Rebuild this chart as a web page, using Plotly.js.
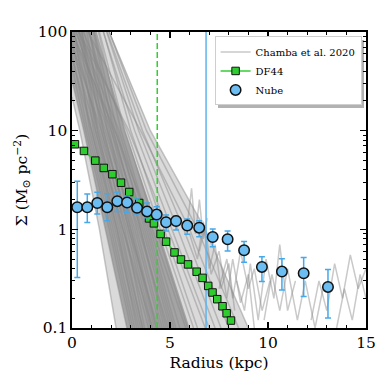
<!DOCTYPE html>
<html>
<head>
<meta charset="utf-8">
<script src="https://cdn.plot.ly/plotly-3.0.1.min.js"></script>
<style>html,body{margin:0;padding:0;background:#fff}#chart{width:382px;height:382px}</style>
</head>
<body>
<div id="chart"></div>
<script>
// ---- Nube (blue circles with error bars) ----
const nubeRadius = [0.27,0.78,1.29,1.80,2.31,2.81,3.32,3.83,4.32,4.80,5.31,5.88,6.49,7.18,7.94,8.78,9.69,10.71,11.82,13.06];
const nubeSigma  = [1.675,1.675,1.85,1.675,1.93,1.87,1.65,1.52,1.41,1.18,1.216,1.091,1.04,0.837,0.794,0.614,0.416,0.373,0.359,0.261];
const nubeErrUp  = [1.39,0.61,0.53,0.62,0.45,0.31,0.38,0.33,0.28,0.22,0.16,0.18,0.18,0.17,0.17,0.14,0.11,0.13,0.16,0.13];
const nubeErrDn  = [1.35,0.50,0.42,0.45,0.41,0.40,0.22,0.21,0.19,0.22,0.23,0.20,0.20,0.17,0.19,0.15,0.12,0.13,0.15,0.135];

// ---- DF44 (green squares) ----
const df44Radius = [0.15,0.61,1.19,1.62,2.06,2.50,2.92,3.43,3.93,4.18,4.52,4.80,5.23,5.56,5.92,6.36,6.66,6.95,7.17,7.41,7.68,7.89,8.11];
const df44Sigma  = [7.28,6.23,4.97,4.19,3.62,2.97,2.39,1.85,1.29,1.15,0.898,0.750,0.583,0.495,0.441,0.372,0.322,0.267,0.229,0.196,0.166,0.141,0.119];

// ---- vertical reference radii ----
const df44Reff = 4.35;   // green dashed
const nubeReff = 6.84;   // blue solid

// ---- Chamba et al. 2020 profiles ----
const chambaRadius = [
  [0,0.4,1.4,2.25],[0,0.6,1.7,2.8],[0,0.7,1.9,3.0],[0,0.3,0.9,2.1,3.2],[0,0.5,1.1,2.3,3.3],
  [0,1.0,2.2,3.4],[0,0.6,1.3,2.5,3.6],[0,0.7,1.5,2.7,3.7],[0,1.4,2.8,4.0],[0,0.8,1.6,2.9,4.1],
  [0,1.5,3.0,4.3],[0,0.9,1.8,3.1,4.3],[0,1.7,3.2,4.5],[0,1.0,2.0,3.3,4.6],[0,1.1,2.1,3.5,4.8],
  [0,2.0,3.6,5.0],[0,1.2,2.3,3.7,5.1],[0,2.4,3.9,5.3],[0,1.3,2.5,4.0,5.5],[0,2.2,4.1,5.8],
  [0,1.4,2.7,4.3,5.9],[0,2.8,4.5,6.2],[0,1.5,3.0,4.7,6.4],[0,2.9,4.9,6.8],[0,1.6,3.2,5.1,7.0],
  [0,1.7,3.4,5.4,7.3],[0,1.8,3.6,5.7,7.6],[0,3.5,6.0,8.0],[0,1.9,3.8,6.4,8.5],[0,1.9,4.0,6.8,9.0],
  [0,1.2,2.4,3.6],[0,1.3,2.6,3.9],[0,0.9,1.9,3.0,4.2],[0,1.8,3.4,4.9],[0,1.1,2.2,3.8,5.2],[0,2.1,3.5,4.7],
  [0,0.8,2.0,3.1],[0,1.0,2.3,3.5],[0,1.6,2.9,4.4],[0,1.2,2.6,4.1,5.6],
  [6.0,6.4,6.7,7.0,7.3,7.6,8.0,8.3],
  [6.5,6.8,7.1,7.5,7.9,8.2,8.6,9.0,9.3],
  [8.4,8.8,9.1,9.5,9.9,10.3,10.6,11.0,11.4],
  [9.8,10.2,10.6,11.0,11.5,11.9,12.4,12.8],
  [12.2,12.6,13.0,13.4,13.8,14.2,14.6,15.0],
  [13.5,13.9,14.3,14.7,15.0],
  [7.5,7.9,8.2,8.6,9.0,9.3,9.7,10.1],
  [5.9,6.1,6.3,6.5,6.7,6.9]
];
const chambaSigma = [
  [22,10,1,0.1],[32,10,1,0.1],[45,10,1,0.1],[160,60,10,1,0.1],[200,70,10,1,0.1],
  [55,10,1,0.1],[300,80,10,1,0.1],[250,70,10,1,0.1],[95,10,1,0.1],[400,90,10,1,0.1],
  [75,10,1,0.1],[500,100,10,1,0.1],[110,10,1,0.1],[350,80,10,1,0.1],[600,100,10,1,0.1],
  [130,10,1,0.1],[500,90,10,1,0.1],[150,10,1,0.1],[800,110,10,1,0.1],[100,10,1,0.1],
  [600,100,10,1,0.1],[180,10,1,0.1],[900,120,10,1,0.1],[140,10,1,0.1],[700,100,10,1,0.1],
  [1000,110,10,1,0.1],[800,100,10,1,0.1],[200,10,1,0.1],[700,100,10,1,0.1],[900,100,10,1,0.1],
  [70,10,1,0.1],[120,10,1,0.1],[300,60,10,1,0.1],[140,10,1,0.1],[400,70,10,1,0.1],[160,10,1,0.1],
  [60,10,1,0.1],[85,10,1,0.1],[200,10,1,0.1],[500,10,1,0.1],
  [0.9,0.5,1.2,0.4,0.7,0.25,0.45,0.15],
  [0.6,1.1,0.35,0.6,0.2,0.5,0.18,0.35,0.1],
  [0.3,0.15,0.45,0.12,0.5,0.2,0.7,0.15,0.3],
  [0.12,0.35,0.15,0.4,0.12,0.3,0.1,0.25],
  [0.12,0.3,0.15,0.45,0.2,0.55,0.25,0.4],
  [0.1,0.25,0.12,0.35,0.2],
  [0.25,0.5,0.2,0.6,0.25,0.4,0.15,0.3],
  [1.2,2.6,0.9,2.0,0.8,1.3]
];

// envelope of the bundle (outer, light) and its dense core
const envelopeRadius = [0,0.4,1.4,2.25,9.0,6.8,4.0,1.9,1.7,0];
const envelopeSigma  = [22,10,1,0.1,0.1,1,10,100,130,130];
const coreRadius = [0,0.6,1.7,2.8,6.0,4.4,2.7,1.3,1.1,0];
const coreSigma  = [32,10,1,0.1,0.1,1,10,100,130,130];

// ---- ticks ----
const xTicks = [0,5,10,15];
const xMinor = [1,2,3,4,6,7,8,9,11,12,13,14];
const yTicks = [0.1,1,10,100];
const yTickText = ["0.1","1","10","100"];
const yMinor = [0.2,0.3,0.4,0.5,0.6,0.7,0.8,0.9,2,3,4,5,6,7,8,9,20,30,40,50,60,70,80,90];

const FONT = "DejaVu Serif, Liberation Serif, serif";
const traces = [];

traces.push({x: envelopeRadius, y: envelopeSigma, mode:'lines', fill:'toself',
  fillcolor:'rgba(150,150,150,0.35)', line:{width:0}, hoverinfo:'skip', showlegend:false});
traces.push({x: coreRadius, y: coreSigma, mode:'lines', fill:'toself',
  fillcolor:'rgba(110,110,110,0.5)', line:{width:0}, hoverinfo:'skip', showlegend:false});

chambaRadius.forEach((r,i)=>{
  traces.push({x:r, y:chambaSigma[i], mode:'lines', name:'Chamba et al. 2020',
    legendgroup:'chamba', showlegend: i===0,
    line:{color:'rgba(135,135,135,0.45)', width:1.5}, hoverinfo:'skip'});
});

traces.push({x:[df44Reff,df44Reff], y:[0.1,100], mode:'lines', showlegend:false,
  line:{color:'#2fd02f', width:1.5, dash:'6px,3px'}});
traces.push({x:[nubeReff,nubeReff], y:[0.1,100], mode:'lines', showlegend:false,
  line:{color:'#5fb4ee', width:1.5}});

traces.push({x:df44Radius, y:df44Sigma, mode:'lines+markers', name:'DF44',
  line:{color:'#33cc33', width:1.5},
  marker:{symbol:'square', size:7.5, color:'#2ecc2e', line:{color:'#111', width:1}}});

traces.push({x:nubeRadius, y:nubeSigma, mode:'markers', name:'Nube',
  error_y:{type:'data', symmetric:false, array:nubeErrUp, arrayminus:nubeErrDn,
           color:'#45a8ea', thickness:1.5, width:3},
  marker:{symbol:'circle', size:10.5, color:'#6cbdf2', line:{color:'#111', width:1.5}}});

const layout = {
  width:382, height:382,
  margin:{l:72, r:16, t:32, b:54, pad:0},
  paper_bgcolor:'#fff', plot_bgcolor:'#fff',
  font:{family:FONT, color:'#000', size:15},
  showlegend:true,
  legend:{x:0.985, y:0.985, xanchor:'right', yanchor:'top',
    bgcolor:'#fff', bordercolor:'#cfcfcf', borderwidth:1,
    font:{family:FONT, size:10, color:'#000'}, tracegroupgap:0, itemwidth:30},
  xaxis:{range:[0,15], tickmode:'array', tickvals:xTicks, ticks:'inside', ticklen:6, tickwidth:1.2,
    tickcolor:'#000', showline:true, linecolor:'#000', linewidth:1.6, mirror:'ticks',
    showgrid:false, zeroline:false, tickfont:{family:FONT, size:15.5},
    minor:{tickmode:'array', tickvals:xMinor, ticks:'inside', ticklen:3, tickwidth:1, tickcolor:'#000', showgrid:false},
    title:{text:'Radius (kpc)', font:{family:FONT, size:15.5}, standoff:6}},
  yaxis:{type:'log', range:[-1,2], tickmode:'array', tickvals:yTicks, ticktext:yTickText,
    ticks:'inside', ticklen:6, tickwidth:1.2, tickcolor:'#000', showline:true, linecolor:'#000',
    linewidth:1.6, mirror:'ticks', showgrid:false, zeroline:false, tickfont:{family:FONT, size:15.5},
    minor:{tickmode:'array', tickvals:yMinor, ticks:'inside', ticklen:3, tickwidth:1, tickcolor:'#000', showgrid:false},
    title:{text:'Σ (M<sub>⊙</sub> pc<sup>−2</sup>)', font:{family:FONT, size:15.5}, standoff:6}}
};

function addLegendShadow(){
  const gd = document.getElementById('chart');
  const bg = gd.querySelector('g.legend rect.bg');
  if (!bg || gd.querySelector('rect.legend-shadow')) return;
  const sh = bg.cloneNode(false);
  sh.setAttribute('class', 'legend-shadow');
  sh.style.fill = 'rgba(0,0,0,0.3)';
  sh.style.stroke = 'none';
  const t = bg.getAttribute('transform') || '';
  sh.setAttribute('transform', t + ' translate(3,3)');
  bg.parentNode.insertBefore(sh, bg);
}

Plotly.newPlot('chart', traces, layout, {staticPlot:true, displayModeBar:false}).then(addLegendShadow);
addLegendShadow();
</script>
</body>
</html>
